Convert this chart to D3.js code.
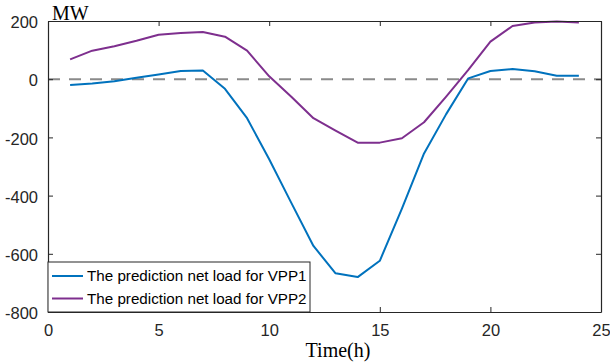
<!DOCTYPE html>
<html>
<head>
<meta charset="utf-8">
<script src="https://cdn.jsdelivr.net/npm/d3@7"></script>
<style>
html,body{margin:0;padding:0;background:#fff;}
svg{display:block;}
</style>
</head>
<body>
<svg id="chart" width="610" height="363"></svg>
<script>
const hours = [1,2,3,4,5,6,7,8,9,10,11,12,13,14,15,16,17,18,19,20,21,22,23,24];
const vpp1 = [-20,-15,-7,5,16,28,30,-33,-134,-275,-425,-573,-667,-680,-624,-445,-255,-120,3,28,35,27,12,12];
const vpp2 = [68,98,113,132,153,159,162,146,98,10,-60,-134,-177,-218,-218,-203,-148,-60,32,129,183,195,198,195];
const xTicks = [0,5,10,15,20,25];
const yTicks = [200,0,-200,-400,-600,-800];
const seriesNames = ["The prediction net load for VPP1","The prediction net load for VPP2"];
const seriesColors = ["#0072BD","#7E2F8E"];

(function(){
const svg = d3.select("#chart");
const L = 48, R = 601, T = 21, B = 312;
const x = d3.scaleLinear().domain([0,25]).range([L,R]);
const y = d3.scaleLinear().domain([-800,200]).range([B,T]);
const axisColor = "#262626";
const tickFont = "'Liberation Sans', Arial, sans-serif";
const serif = "'Liberation Serif', 'Times New Roman', serif";
const fmt = d => String(d);

// zero dashed line
svg.append("line")
  .attr("x1", x(0)).attr("x2", x(25))
  .attr("y1", y(0)).attr("y2", y(0))
  .attr("stroke", "#8a8a8a").attr("stroke-width", 2)
  .attr("stroke-dasharray", "12,9");

// lines
const line = d3.line().x((d,i)=>x(hours[i])).y(d=>y(d));
[vpp1, vpp2].forEach((s,k)=>{
  svg.append("path").datum(s)
    .attr("d", line)
    .attr("fill","none")
    .attr("stroke", seriesColors[k])
    .attr("stroke-width", 2)
    .attr("stroke-linejoin","round");
});

// axes (MATLAB style: ticks inward, box)
const gBottom = svg.append("g").attr("transform",`translate(0,${B})`)
  .call(d3.axisBottom(x).tickValues(xTicks).tickFormat(fmt).tickSizeInner(-5).tickSizeOuter(0).tickPadding(12));
const gTop = svg.append("g").attr("transform",`translate(0,${T})`)
  .call(d3.axisTop(x).tickValues(xTicks).tickSizeInner(-5).tickSizeOuter(0).tickFormat(""));
const gLeft = svg.append("g").attr("transform",`translate(${L},0)`)
  .call(d3.axisLeft(y).tickValues(yTicks).tickFormat(fmt).tickSizeInner(-5).tickSizeOuter(0).tickPadding(10));
const gRight = svg.append("g").attr("transform",`translate(${R},0)`)
  .call(d3.axisRight(y).tickValues(yTicks).tickSizeInner(-5).tickSizeOuter(0).tickFormat(""));

[gBottom, gTop, gLeft, gRight].forEach(g=>{
  g.select(".domain").attr("stroke", axisColor).attr("stroke-width",1.2);
  g.selectAll(".tick line").attr("stroke", axisColor).attr("stroke-width",1);
  g.selectAll(".tick text").attr("fill","#262626")
    .style("font-family", tickFont).style("font-size","16.5px");
});
gBottom.selectAll(".tick text").attr("dy","0.71em");
gLeft.selectAll(".tick text").attr("dy","0.4em");

// labels
svg.append("text").attr("x",52).attr("y",19.5)
  .style("font-family",serif).style("font-size","20px").attr("fill","#000")
  .text("MW");
svg.append("text").attr("x",338).attr("y",357).attr("text-anchor","middle")
  .style("font-family",serif).style("font-size","20px").attr("fill","#000")
  .text("Time(h)");

// legend
const lg = svg.append("g");
lg.append("rect").attr("x",48).attr("y",262).attr("width",262).attr("height",50)
  .attr("fill","#fff").attr("stroke",axisColor).attr("stroke-width",1);
const legY = [276, 298.5];
seriesNames.forEach((n,k)=>{
  lg.append("line").attr("x1",52).attr("x2",83).attr("y1",legY[k]).attr("y2",legY[k])
    .attr("stroke",seriesColors[k]).attr("stroke-width",2);
  lg.append("text").attr("x",87).attr("y",legY[k]).attr("dy","0.36em")
    .style("font-family",tickFont).style("font-size","15.2px").attr("fill","#000")
    .text(n);
});
})();
</script>
</body>
</html>
